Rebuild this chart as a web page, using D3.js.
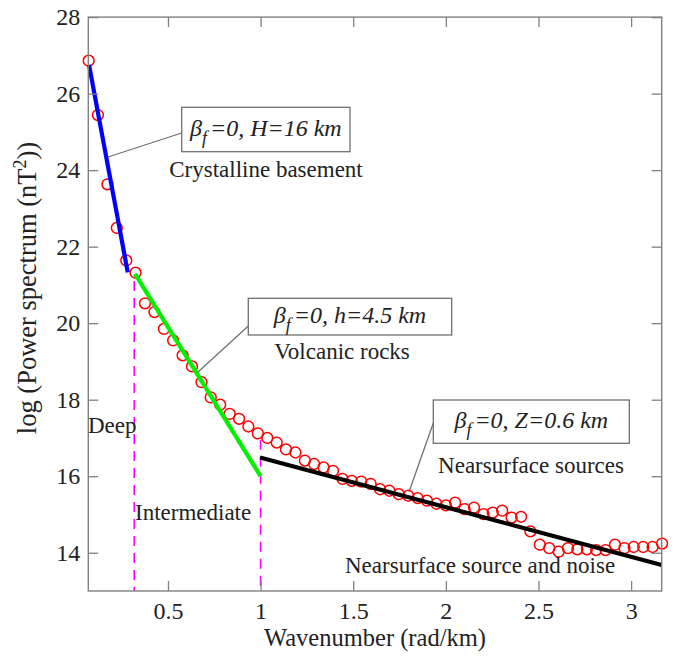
<!DOCTYPE html>
<html><head><meta charset="utf-8">
<script src="https://cdn.jsdelivr.net/npm/d3@7"></script>
<style>body{margin:0;background:#fff}svg{display:block}</style>
</head><body><svg id="c" width="676" height="658"></svg>
<script>
// ---- data ----
const wavenumber = [0.072,0.122,0.173,0.224,0.275,0.325,0.376,0.427,0.478,0.528,0.579,0.630,0.681,0.731,0.782,0.833,0.884,0.934,0.985,1.036,1.087,1.137,1.188,1.239,1.289,1.340,1.391,1.442,1.492,1.543,1.594,1.645,1.695,1.746,1.797,1.848,1.898,1.949,2.000,2.050,2.101,2.152,2.203,2.253,2.304,2.355,2.406,2.456,2.507,2.558,2.609,2.659,2.710,2.761,2.811,2.862,2.913,2.964,3.014,3.065,3.116,3.167];
const logPower = [26.86,25.44,23.63,22.49,21.64,21.32,20.52,20.29,19.85,19.55,19.16,18.87,18.46,18.06,17.87,17.63,17.50,17.30,17.12,17.00,16.88,16.70,16.62,16.41,16.32,16.23,16.14,15.93,15.88,15.86,15.80,15.66,15.62,15.53,15.49,15.43,15.36,15.28,15.24,15.31,15.14,15.18,15.01,15.05,15.10,14.92,14.94,14.56,14.21,14.12,14.03,14.12,14.09,14.09,14.07,14.07,14.21,14.12,14.15,14.15,14.15,14.24];
const fitDeep = [[0.074,26.75],[0.283,21.33]];
const fitIntermediate = [[0.322,21.29],[1.0,16.0]];
const fitShallow = [[0.997,16.49],[3.165,13.68]];
const boundaries = [[0.318,21.1],[1.0,16.95]];
const xTicks = [0.5,1,1.5,2,2.5,3];
const xTickLabels = ["0.5","1","1.5","2","2.5","3"];
const yTicks = [14,16,18,20,22,24,26,28];
const yTickLabels = ["14","16","18","20","22","24","26","28"];

const svg = d3.select("#c");
const L=88.3,R=661.7,T=17.1,B=591;
const x = d3.scaleLinear().domain([0.07,3.165]).range([L,R]);
const y = d3.scaleLinear().domain([13,28]).range([B,T]);
const font = "'Liberation Serif','Times New Roman',serif";
const axisCol = "#808080", txtCol = "#222";

// boundaries
svg.append("g").selectAll("line").data(boundaries).join("line")
  .attr("x1",d=>x(d[0])).attr("x2",d=>x(d[0]))
  .attr("y1",d=>y(d[1])).attr("y2",B)
  .attr("stroke","#ff00ff").attr("stroke-width",1.6).attr("stroke-dasharray","10,7");

// data points
svg.append("g").selectAll("circle").data(wavenumber.map((k,i)=>[k,logPower[i]])).join("circle")
  .attr("cx",d=>x(d[0])).attr("cy",d=>y(d[1])).attr("r",5.4)
  .attr("fill","none").attr("stroke","#ff0000").attr("stroke-width",1.5);

// fit lines
const line = d3.line().x(d=>x(d[0])).y(d=>y(d[1]));
[[fitDeep,"#0000ff"],[fitIntermediate,"#00f000"],[fitShallow,"#000000"]].forEach(([d,c])=>{
  svg.append("path").attr("d",line(d)).attr("fill","none").attr("stroke",c).attr("stroke-width",4.2);
});

// axes
const ax = d3.axisBottom(x).tickValues(xTicks).tickFormat((d,i)=>xTickLabels[i]).tickSize(-10).tickPadding(11);
const gx = svg.append("g").attr("transform",`translate(0,${B})`).call(ax);
const ay = d3.axisLeft(y).tickValues(yTicks).tickFormat((d,i)=>yTickLabels[i]).tickSize(-10).tickPadding(8);
const gy = svg.append("g").attr("transform",`translate(${L},0)`).call(ay);
const axT = d3.axisTop(x).tickValues(xTicks).tickFormat("").tickSize(-10);
const gt = svg.append("g").attr("transform",`translate(0,${T})`).call(axT);
const axR = d3.axisRight(y).tickValues(yTicks).tickFormat("").tickSize(-10);
const gr = svg.append("g").attr("transform",`translate(${R},0)`).call(axR);
[gx,gy,gt,gr].forEach(g=>{
  g.select(".domain").remove();
  g.selectAll(".tick line").attr("stroke",axisCol).attr("stroke-width",1.3);
  g.selectAll(".tick text").attr("fill",txtCol).style("font-family",font).style("font-size","24px");
});
svg.append("rect").attr("x",L).attr("y",T).attr("width",R-L).attr("height",B-T)
  .attr("fill","none").attr("stroke",axisCol).attr("stroke-width",1.4);

// axis titles
svg.append("text").attr("x",(L+R)/2).attr("y",646).attr("text-anchor","middle")
  .style("font-family",font).style("font-size","24.5px").attr("fill",txtCol).text("Wavenumber (rad/km)");
const yt = svg.append("text").attr("transform","translate(36,288) rotate(-90)").attr("text-anchor","middle")
  .style("font-family",font).style("font-size","26.5px").attr("fill",txtCol);
yt.append("tspan").text("log (Power spectrum (nT");
yt.append("tspan").attr("dy",-10).style("font-size","18px").text("2");
yt.append("tspan").attr("dy",10).text("))");

// annotation boxes
const boxes = [
  {x0:181.7,y0:107.3,x1:350,y1:151.7, rest:"=0, H=16 km", from:[108,157], to:[181.7,133]},
  {x0:248.3,y0:298.3,x1:451.7,y1:335, rest:"=0, h=4.5 km", from:[198,372], to:[248.3,326]},
  {x0:433.3,y0:400,x1:629.3,y1:443.3, rest:"=0, Z=0.6 km", from:[409,492], to:[433.3,423]}
];
boxes.forEach(b=>{
  svg.append("line").attr("x1",b.from[0]).attr("y1",b.from[1]).attr("x2",b.to[0]).attr("y2",b.to[1])
    .attr("stroke","#707070").attr("stroke-width",1.3);
  svg.append("rect").attr("x",b.x0).attr("y",b.y0).attr("width",b.x1-b.x0).attr("height",b.y1-b.y0)
    .attr("fill","#fff").attr("stroke","#707070").attr("stroke-width",1.3);
  const t = svg.append("text").attr("x",(b.x0+b.x1)/2).attr("y",(b.y0+b.y1)/2+6).attr("text-anchor","middle")
    .style("font-family",font).style("font-size","24px").style("font-style","italic").attr("fill",txtCol);
  t.append("tspan").text("β");
  t.append("tspan").attr("dy",8).style("font-size","18px").text("f");
  t.append("tspan").attr("dy",-8).attr("dx",3).text(b.rest);
});

// labels
const labels = [
  ["Crystalline basement",266,177,"middle"],
  ["Volcanic rocks",342,359,"middle"],
  ["Nearsurface sources",531,473,"middle"],
  ["Deep",88,433,"start"],
  ["Intermediate",135,520,"start"],
  ["Nearsurface source and noise",345,573,"start"]
];
svg.append("g").selectAll("text").data(labels).join("text")
  .attr("x",d=>d[1]).attr("y",d=>d[2]).attr("text-anchor",d=>d[3])
  .style("font-family",font).style("font-size","23px").attr("fill",txtCol).text(d=>d[0]);
</script></body></html>
